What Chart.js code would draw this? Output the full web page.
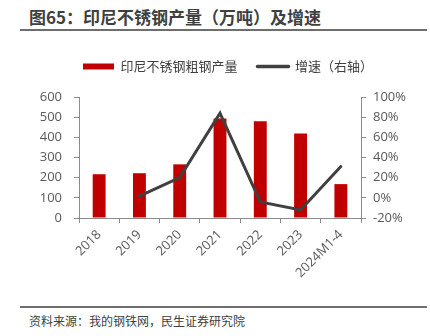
<!DOCTYPE html>
<html><head><meta charset="utf-8">
<script src="https://cdn.jsdelivr.net/npm/chart.js@4/dist/chart.umd.min.js"></script>
<style>
html,body{margin:0;padding:0;background:#fff;width:430px;height:336px;overflow:hidden;}
#title{position:absolute;left:29px;top:6px;font:bold 17px "Noto Sans CJK SC",sans-serif;color:#3f3f3f;white-space:nowrap;line-height:22px;}
#rule1{position:absolute;left:20px;top:29px;width:407px;height:2px;background:#6e6e6e;}
#rule2{position:absolute;left:20px;top:306px;width:407px;height:2px;background:#6e6e6e;}
#src{position:absolute;left:29px;top:312px;font:12px "Noto Sans CJK SC",sans-serif;color:#404040;white-space:nowrap;line-height:18px;}
#wrap{position:absolute;left:0;top:36px;width:430px;height:264px;}
</style></head>
<body>
<div id="title">图65：印尼不锈钢产量（万吨）及增速</div>
<div id="rule1"></div>
<div id="wrap"><canvas id="c" width="430" height="264"></canvas></div>
<div id="rule2"></div>
<div id="src">资料来源：我的钢铁网，民生证券研究院</div>
<script>
const categories = ['2018','2019','2020','2021','2022','2023','2024M1-4'];
const production = [217, 222, 266, 493, 480, 419, 168];
const growth = [null, 1.8, 20, 84, -4, -12, 31];
const leftTicks = [0, 100, 200, 300, 400, 500, 600];
const rightTicks = [-20, 0, 20, 40, 60, 80, 100];
const seriesNames = ['印尼不锈钢粗钢产量', '增速（右轴）'];

const tickFont = {family: '"Open Sans", sans-serif', size: 13};
const tickColor = '#595959';
const axisColor = '#8c8c8c';

const legendMargin = {
  id: 'legendMargin',
  beforeInit(chart) {
    const orig = chart.legend.fit;
    chart.legend.fit = function() { orig.bind(chart.legend)(); this.height += 14; };
  }
};

new Chart(document.getElementById('c'), {
  type: 'bar',
  data: {
    labels: categories,
    datasets: [
      {label: seriesNames[0], data: production, backgroundColor: '#C00000', yAxisID: 'y', barPercentage: 0.64, categoryPercentage: 0.5, order: 1},
      {type: 'line', label: seriesNames[1], data: growth, borderColor: '#404040', backgroundColor: '#404040', borderWidth: 3, pointRadius: 0, tension: 0, yAxisID: 'y1', order: 0, borderCapStyle: 'round', spanGaps: false}
    ]
  },
  options: {
    responsive: false,
    animation: false,
    layout: {padding: {left: 26, right: 0, top: 4, bottom: 0}},
    plugins: {
      tooltip: {enabled: false},
      legend: {
        position: 'top',
        labels: {
          usePointStyle: true,
          pointStyleWidth: 31,
          boxHeight: 6,
          padding: 20,
          color: '#404040',
          font: {family: '"Noto Sans CJK SC", sans-serif', size: 13},
          sort: (a, b) => a.datasetIndex - b.datasetIndex,
          generateLabels(chart) {
            const items = Chart.defaults.plugins.legend.labels.generateLabels(chart);
            items.forEach(it => {
              if (it.datasetIndex === 0) { it.pointStyle = 'rect'; it.lineWidth = 0; it.fillStyle = '#C00000'; it.strokeStyle = '#C00000'; }
              else { it.pointStyle = 'line'; it.lineWidth = 3.5; it.strokeStyle = '#404040'; it.lineCap = 'round'; }
            });
            return items;
          }
        }
      }
    },
    scales: {
      x: {
        grid: {display: true, drawOnChartArea: false, drawTicks: true, tickLength: 5, color: axisColor, offset: true},
        border: {color: axisColor, width: 1},
        ticks: {color: tickColor, font: tickFont, minRotation: 45, maxRotation: 45, padding: 4, autoSkip: false},
        afterFit(s) { s.height = 82; }
      },
      y: {
        position: 'left', min: 0, max: 600,
        grid: {display: true, drawOnChartArea: false, tickLength: 5, color: axisColor},
        border: {color: axisColor, width: 1},
        afterBuildTicks(s) { s.ticks = leftTicks.map(v => ({value: v})); },
        ticks: {color: tickColor, font: tickFont, padding: 12},
        afterFit(s) { s.width = 53; }
      },
      y1: {
        position: 'right', min: -20, max: 100,
        grid: {display: true, drawOnChartArea: false, tickLength: 5, color: axisColor},
        border: {color: axisColor, width: 1},
        afterBuildTicks(s) { s.ticks = rightTicks.map(v => ({value: v})); },
        ticks: {color: tickColor, font: tickFont, padding: 7, callback: v => v + '%'},
        afterFit(s) { s.width = 69; }
      }
    }
  },
  plugins: [legendMargin]
});
</script>
</body></html>
